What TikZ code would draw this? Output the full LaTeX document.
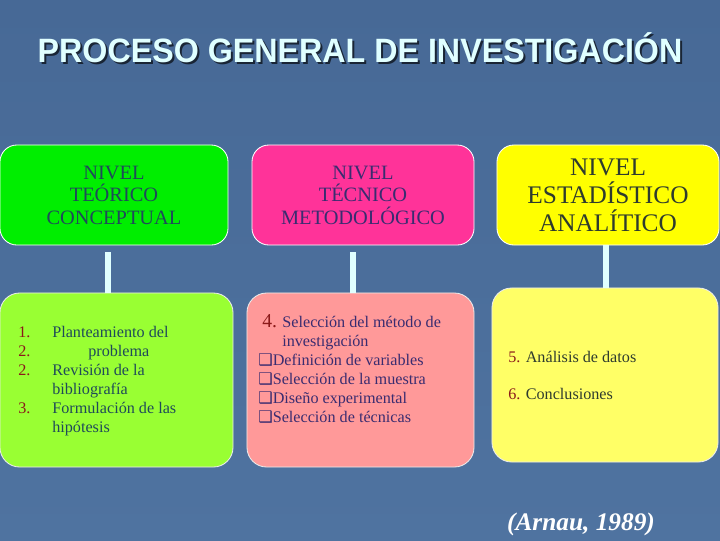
\documentclass[tikz,border=0pt]{standalone}
\usepackage{fontspec}
\setmainfont{Liberation Serif}
\newfontfamily\titlefont{Liberation Sans}
\newfontfamily\symfont{DejaVu Sans}

\definecolor{fondoA}{HTML}{476996}
\definecolor{fondoB}{HTML}{4F73A0}
\definecolor{verde}{HTML}{00EE00}
\definecolor{rosa}{HTML}{FF3399}
\definecolor{amarillo}{HTML}{FFFF00}
\definecolor{verdeclaro}{HTML}{99FF33}
\definecolor{rosaclaro}{HTML}{FF9999}
\definecolor{amarilloclaro}{HTML}{FFFF66}
\definecolor{cian}{HTML}{E0FFFF}
\definecolor{numrojo}{HTML}{8B1A1A}
\definecolor{tintaA}{HTML}{1F4A5A}
\definecolor{tintaB}{HTML}{3A2C70}
\definecolor{tintaC}{HTML}{2E3B2E}

\newcommand{\nro}[1]{\makebox[0.85cm][l]{\color{numrojo}#1}}
\newcommand{\casilla}{{\symfont\fontsize{11.5}{10}\selectfont\char"2751}}

\begin{document}
\begin{tikzpicture}
    [ x=0.025cm, y=-0.025cm
    , nivel/.style={rounded corners=12pt, draw=white, line width=0.6pt,
        minimum height=2.5cm, align=center, inner sep=0pt}
    , pasos/.style={rounded corners=14pt, draw=white!85!gray, line width=0.6pt,
        minimum height=4.35cm, inner sep=0pt}
    , lista/.style={inner sep=0pt, anchor=base west,
        font=\fontsize{11.5}{13.6}\selectfont}
    , enlace/.style={cian, line width=4.2pt}
    ]
\useasboundingbox (0,0) rectangle (720,540);
\shade[top color=fondoA, bottom color=fondoB] (0,0) rectangle (720,540);

% titulo
\node[anchor=base, text=black!65!fondoA] (sombra) at (362,64)
    {\titlefont\bfseries\fontsize{24}{28}\selectfont\scalebox{0.955}[1]{PROCESO GENERAL DE INVESTIGACIÓN}};
\node[anchor=base, text=cian] (titulo) at (360,62)
    {\titlefont\bfseries\fontsize{24}{28}\selectfont\scalebox{0.955}[1]{PROCESO GENERAL DE INVESTIGACIÓN}};

% niveles
\node[nivel, fill=verde, minimum width=5.7cm, text=tintaA,
    font=\fontsize{14.5}{16}\selectfont] (teorico) at (114,195)
    {NIVEL\\TEÓRICO\\CONCEPTUAL};
\node[nivel, fill=rosa, minimum width=5.55cm, text=tintaB,
    font=\fontsize{14.5}{16}\selectfont] (tecnico) at (363,195)
    {NIVEL\\TÉCNICO\\METODOLÓGICO};
\node[nivel, fill=amarillo, minimum width=5.55cm, text=tintaC,
    font=\fontsize{18}{20}\selectfont] (estadistico) at (608,195)
    {NIVEL\\ESTADÍSTICO\\ANALÍTICO};

% pasos de cada nivel
\node[pasos, fill=verdeclaro, minimum width=5.825cm] (teoricoB) at (116.5,380) {};
\node[pasos, fill=rosaclaro, minimum width=5.675cm] (tecnicoB) at (360.5,380) {};
\node[pasos, fill=amarilloclaro, minimum width=5.65cm] (estadisticoB) at (605,375) {};

\draw[enlace] ([xshift=-0.15cm, yshift=-0.175cm]teorico.south)
    -- ([xshift=-0.15cm]teorico.south |- teoricoB.north);
\draw[enlace] ([xshift=-0.25cm, yshift=-0.175cm]tecnico.south)
    -- ([xshift=-0.25cm]tecnico.south |- tecnicoB.north);
\draw[enlace] ([xshift=-0.05cm]estadistico.south)
    -- ([xshift=-0.05cm]estadistico.south |- estadisticoB.north);

\node[lista, text=tintaA] (listaA) at (18,337)
    {\begin{tabular}[t]{@{}l@{}}
        \nro{1.}Planteamiento del\\
        \nro{2.}\hspace{0.9cm}problema\\
        \nro{2.}Revisión de la\\
        \nro{}bibliografía\\
        \nro{3.}Formulación de las\\
        \nro{}hipótesis
     \end{tabular}};
\node[lista, text=tintaB] (listaB) at (258,327)
    {\begin{tabular}[t]{@{}l@{}}
        \hspace{0.1cm}{\color{numrojo}\fontsize{14}{14}\selectfont 4.} Selección del método de\\
        \hspace{0.6cm}investigación\\
        \casilla Definición de variables\\
        \casilla Selección de la muestra\\
        \casilla Diseño experimental\\
        \casilla Selección de técnicas
     \end{tabular}};
\node[lista, text=tintaC] (listaC) at (508,362)
    {\begin{tabular}[t]{@{}l@{}}
        {\color{numrojo}5.} Análisis de datos\\[13.4pt]
        {\color{numrojo}6.} Conclusiones
     \end{tabular}};

\node[anchor=base, text=white, font=\bfseries\itshape\fontsize{18}{20}\selectfont]
    (cita) at (581,530) {(Arnau, 1989)};
\end{tikzpicture}
\end{document}
